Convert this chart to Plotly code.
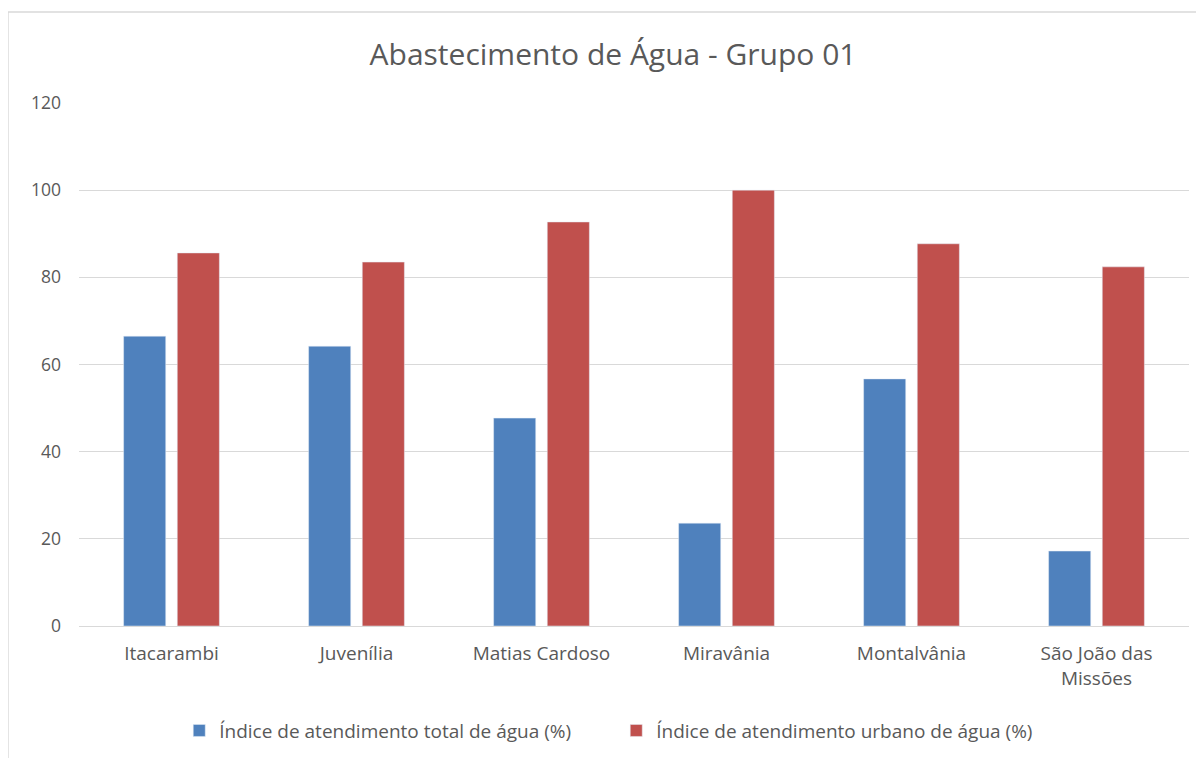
"""Gráfico de barras agrupadas - Abastecimento de Água, Grupo 01"""

import plotly.graph_objects as go

# Dados
municipios = [
    "Itacarambi",
    "Juvenília",
    "Matias Cardoso",
    "Miravânia",
    "Montalvânia",
    "São João das<br>Missões",
]
atendimento_total = [66.5, 64.2, 47.7, 23.6, 56.7, 17.2]
atendimento_urbano = [85.6, 83.5, 92.7, 100.0, 87.7, 82.4]

nome_total = "Índice de atendimento total de água (%)"
nome_urbano = "Índice de atendimento urbano de água (%)"

cor_texto = "#595959"
cor_grade = "#d9d9d9"

fig = go.Figure()

fig.add_trace(
    go.Bar(x=municipios, y=atendimento_total, name=nome_total, marker_color="#4f81bd")
)
fig.add_trace(
    go.Bar(x=municipios, y=atendimento_urbano, name=nome_urbano, marker_color="#c0504d")
)

fig.update_layout(
    width=1204,
    height=758,
    margin=dict(l=71, r=23, t=95, b=140),
    paper_bgcolor="white",
    plot_bgcolor="white",
    font=dict(family="Open Sans", color=cor_texto, size=18),
    title=dict(
        text="Abastecimento de Água - Grupo 01",
        x=0.5025,
        xanchor="center",
        y=0.938,
        yanchor="middle",
        font=dict(size=30, color=cor_texto),
    ),
    barmode="group",
    bargap=0.42,
    bargroupgap=0.215,
    xaxis=dict(
        showgrid=False,
        showline=True,
        linecolor=cor_grade,
        linewidth=1,
        ticks="",
        ticklabelstandoff=10,
        tickfont=dict(size=19, color=cor_texto),
    ),
    yaxis=dict(
        range=[0, 120],
        dtick=20,
        showgrid=True,
        gridcolor=cor_grade,
        gridwidth=1,
        zeroline=False,
        ticks="",
        ticklabelstandoff=17,
        tickfont=dict(size=17.5, color=cor_texto),
    ),
    legend=dict(
        orientation="h",
        x=0.484,
        xanchor="center",
        y=-0.2,
        yanchor="middle",
        font=dict(size=19, color=cor_texto),
        itemwidth=30,
        entrywidth=392,
        entrywidthmode="pixels",
        traceorder="normal",
    ),
    # Moldura do gráfico
    shapes=[
        dict(
            type="rect",
            xref="paper",
            yref="paper",
            x0=-0.064,
            x1=1.2,
            y0=-0.6,
            y1=1.174,
            line=dict(color=cor_grade, width=1.5),
            layer="below",
        )
    ],
)

fig.write_html("out.html")
